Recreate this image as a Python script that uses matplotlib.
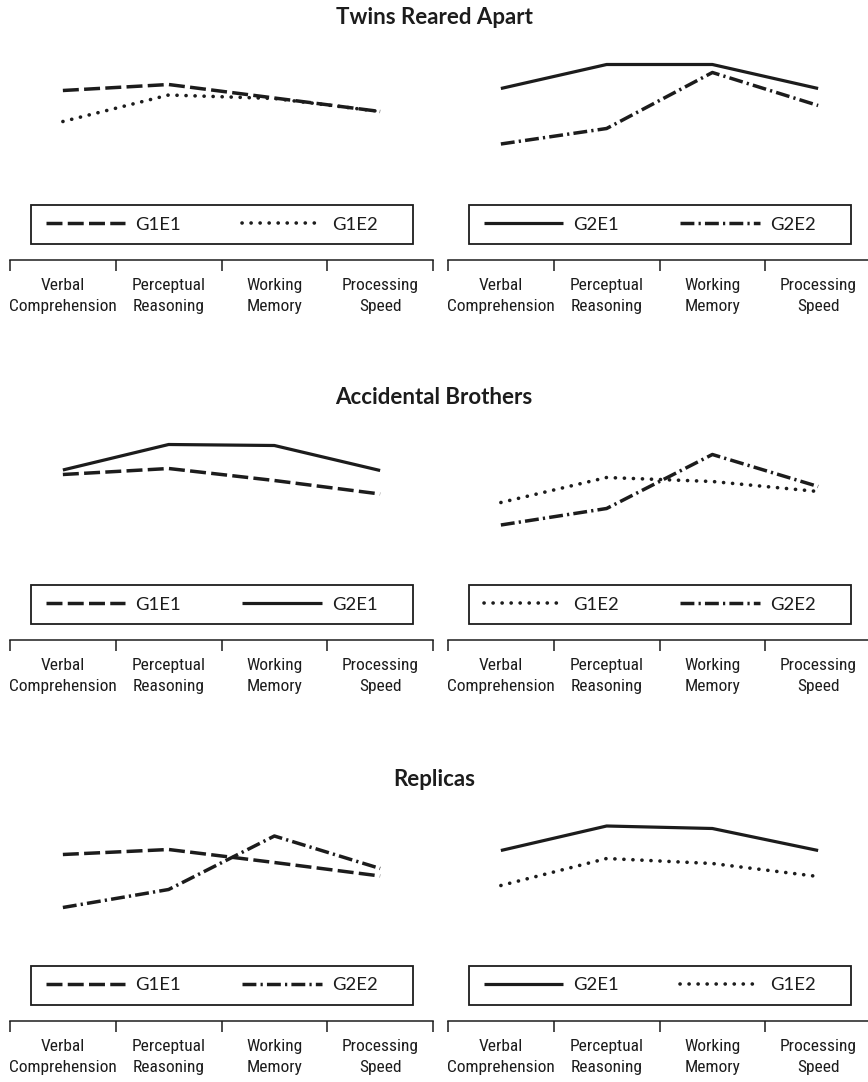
import matplotlib
matplotlib.use("Agg")
import matplotlib.pyplot as plt
from matplotlib.patches import Rectangle
from matplotlib.ticker import FixedLocator, NullFormatter

plt.rcParams["lines.scale_dashes"] = False

# ---- data -------------------------------------------------------------
categories = ["Verbal\nComprehension", "Perceptual\nReasoning",
              "Working\nMemory", "Processing\nSpeed"]
row_titles = ["Twins Reared Apart", "Accidental Brothers", "Replicas"]

twins_g1e1 = [101.9, 103.1, 100.4, 97.7]
twins_g1e2 = [95.7, 101.0, 100.3, 97.7]
twins_g2e1 = [102.3, 107.1, 107.1, 102.3]
twins_g2e2 = [91.2, 94.3, 105.5, 98.9]

brothers_g1e1 = [101.1, 102.3, 99.9, 97.2]
brothers_g2e1 = [102.0, 107.1, 106.9, 101.9]
brothers_g1e2 = [95.5, 100.5, 99.7, 97.7]
brothers_g2e2 = [91.0, 94.3, 105.1, 98.7]

replicas_g1e1 = [101.3, 102.3, 99.7, 97.0]
replicas_g2e2 = [90.7, 94.3, 105.0, 98.5]
replicas_g2e1 = [102.1, 107.0, 106.5, 102.1]
replicas_g1e2 = [95.1, 100.5, 99.5, 96.9]

# series shown in the left and right panel of each row
panels = [
    [[("G1E1", twins_g1e1), ("G1E2", twins_g1e2)],
     [("G2E1", twins_g2e1), ("G2E2", twins_g2e2)]],
    [[("G1E1", brothers_g1e1), ("G2E1", brothers_g2e1)],
     [("G1E2", brothers_g1e2), ("G2E2", brothers_g2e2)]],
    [[("G1E1", replicas_g1e1), ("G2E2", replicas_g2e2)],
     [("G2E1", replicas_g2e1), ("G1E2", replicas_g1e2)]],
]

# ---- styles -------------------------------------------------------------
INK = "#1c1c1c"
styles = {
    "G1E1": dict(linestyle=(0, (11.5, 3.8)), linewidth=2.5, dash_capstyle="butt"),
    "G1E2": dict(linestyle=(0, (0.1, 6.4)), linewidth=2.6, dash_capstyle="round"),
    "G2E1": dict(linestyle="-", linewidth=2.3, solid_capstyle="butt"),
    "G2E2": dict(linestyle=(0, (10.0, 3.0, 1.6, 3.0)), linewidth=2.5,
                 dash_capstyle="butt"),
}

W, H = 868, 1082
fig = plt.figure(figsize=(W / 100, H / 100), dpi=100)


def fx(px):
    return px / W


def fy(py):
    return 1 - py / H


tick_font = ["Roboto Condensed", "Noto Sans Condensed", "DejaVu Sans"]
legend_font = ["Lato", "DejaVu Sans"]
title_font = ["Lato", "DejaVu Sans"]

row_offsets = [0, 380, 761]
panel_left = [10, 448]
panel_width = 423

for r, off in enumerate(row_offsets):
    fig.text(fx(434), fy(18 + off), row_titles[r], ha="center", va="center",
             fontsize=16, fontweight="bold", family=title_font, color=INK)

    for c in range(2):
        x0 = panel_left[c]
        top, bottom = 50 + off, 260 + off
        ax = fig.add_axes([fx(x0), fy(bottom), panel_width / W,
                           (bottom - top) / H])
        ax.set_xlim(-0.5, 3.5)
        ax.set_ylim(68, 110)
        ax.patch.set_alpha(0)
        for s in ("top", "left", "right"):
            ax.spines[s].set_visible(False)
        ax.spines["bottom"].set_linewidth(1.1)
        ax.spines["bottom"].set_color(INK)
        ax.set_yticks([])

        # category labels centred in each segment, boundaries as ticks
        ax.set_xticks(range(len(categories)))
        ax.set_xticklabels(categories, family=tick_font, fontstretch="condensed",
                           fontsize=12.5, color=INK, linespacing=1.5)
        ax.tick_params(axis="x", which="major", length=0, pad=13)
        ax.xaxis.set_minor_locator(FixedLocator([-0.5, 0.5, 1.5, 2.5, 3.5]))
        ax.xaxis.set_minor_formatter(NullFormatter())
        ax.tick_params(axis="x", which="minor", length=8, width=1.1,
                       color=INK, direction="out")

        handles = []
        for name, vals in panels[r][c]:
            ln, = ax.plot(range(len(vals)), vals, color=INK, label=name,
                          **styles[name])
            handles.append(ln)

        # legend box
        bx0, bx1 = x0 + 21, x0 + 403
        by0, by1 = 205 + off, 244 + off
        fig.patches.append(Rectangle((fx(bx0), fy(by1)), (bx1 - bx0) / W,
                                     (by1 - by0) / H, transform=fig.transFigure,
                                     fill=False, edgecolor=INK, linewidth=1.3))
        ax.legend(handles=handles, loc="center left",
                  bbox_to_anchor=(fx(bx0 + 15), fy((by0 + by1) / 2)),
                  bbox_transform=fig.transFigure, frameon=False, ncol=2,
                  borderpad=0, borderaxespad=0, handlelength=4.3,
                  handletextpad=0.55, columnspacing=3.3,
                  prop=dict(family=legend_font, size=13.3),
                  labelcolor=INK)

fig.savefig("out.png", dpi=100)
